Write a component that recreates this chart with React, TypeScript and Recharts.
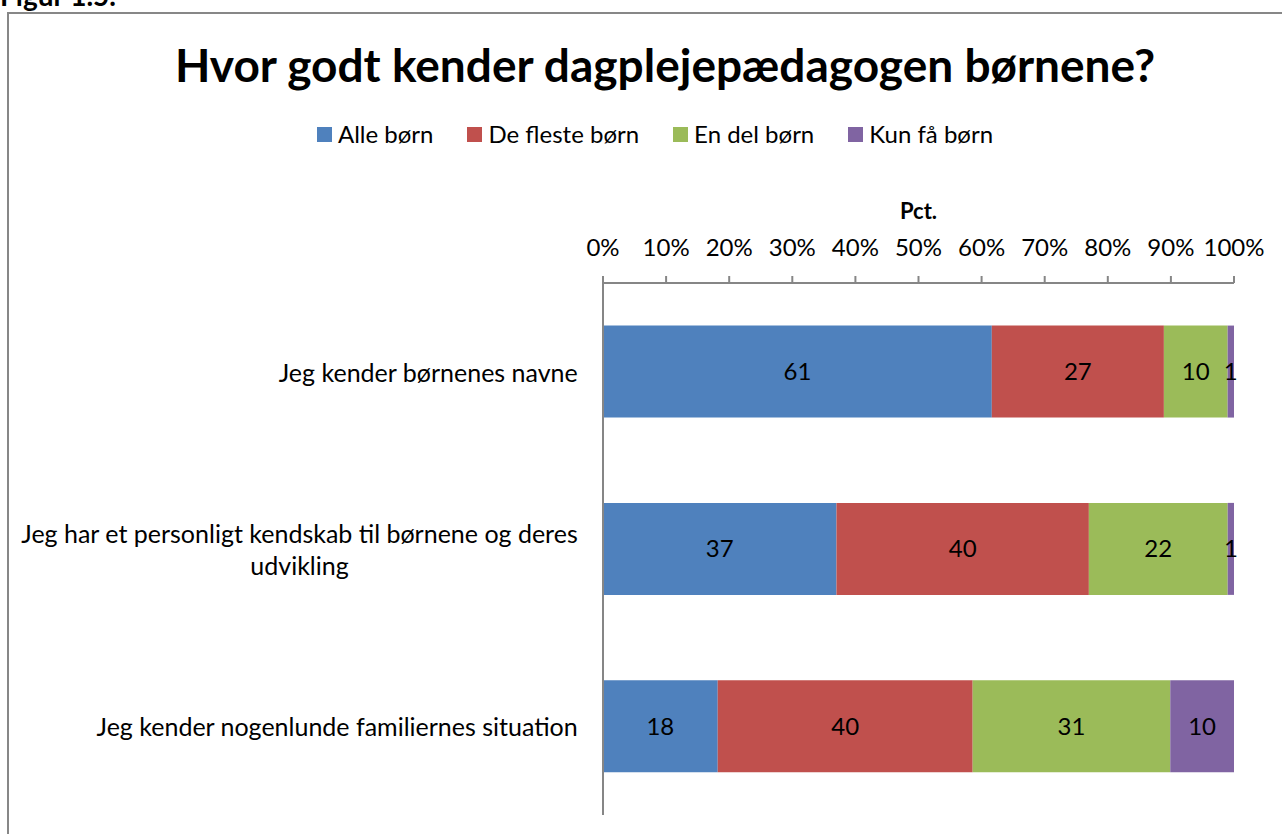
import { FC } from "react";
import { Bar, BarChart, LabelList, XAxis, YAxis } from "recharts";

const FONT = "Lato, 'Open Sans', sans-serif";

const categories = [
  "Jeg kender børnenes navne",
  "Jeg har et personligt kendskab til børnene og deres udvikling",
  "Jeg kender nogenlunde familiernes situation",
];
const alleBorn = [61, 37, 18];
const flesteBorn = [27, 40, 40];
const delBorn = [10, 22, 31];
const faaBorn = [1, 1, 10];

const seriesNames = ["Alle børn", "De fleste børn", "En del børn", "Kun få børn"];
const seriesColors = ["#4F81BD", "#C0504D", "#9BBB59", "#8064A2"];
const seriesKeys = ["alle", "fleste", "del", "faa"];

const xTicks = [0, 0.1, 0.2, 0.3, 0.4, 0.5, 0.6, 0.7, 0.8, 0.9, 1];

const data = categories.map((name, i) => ({
  name,
  alle: alleBorn[i],
  fleste: flesteBorn[i],
  del: delBorn[i],
  faa: faaBorn[i],
}));

let ctx: CanvasRenderingContext2D | null = null;
const measure = (text: string, size: number) => {
  if (!ctx) ctx = document.createElement("canvas").getContext("2d");
  if (!ctx) return text.length * size * 0.5;
  ctx.font = `${size}px Lato`;
  return ctx.measureText(text).width;
};

const wrap = (text: string, size: number, maxWidth: number) => {
  const words = text.split(" ");
  const lines: string[] = [];
  let cur = "";
  words.forEach((w) => {
    const next = cur ? cur + " " + w : w;
    if (measure(next, size) > maxWidth && cur) {
      lines.push(cur);
      cur = w;
    } else {
      cur = next;
    }
  });
  if (cur) lines.push(cur);
  return lines;
};

const CategoryTick: FC<any> = ({ x, y, payload }) => {
  const size = 25;
  const lineHeight = 32;
  const lines = wrap(payload.value, size, 575);
  const widest = Math.max(...lines.map((l) => measure(l, size)));
  const right = x - 17;
  const cx = right - widest / 2;
  const startY = y - ((lines.length - 1) * lineHeight) / 2;
  return (
    <text
      x={cx}
      y={startY}
      textAnchor="middle"
      dominantBaseline="central"
      fontSize={size}
      fill="#000"
      fontFamily={FONT}
    >
      {lines.map((l, i) => (
        <tspan key={i} x={cx} y={startY + i * lineHeight}>
          {l}
        </tspan>
      ))}
    </text>
  );
};

const App: FC = () => {
  return (
    <div
      style={{
        position: "fixed",
        left: 0,
        top: 0,
        width: 1282,
        height: 834,
        overflow: "hidden",
        background: "#fff",
        fontFamily: FONT,
      }}
    >
      <div
        style={{
          position: "absolute",
          left: 0,
          top: -22,
          fontSize: 28,
          fontWeight: 700,
          lineHeight: "34px",
        }}
      >
        Figur 1.5.
      </div>
      <div
        style={{
          position: "absolute",
          left: 7,
          top: 12,
          width: 1320,
          height: 900,
          borderTop: "2px solid #878787",
          borderLeft: "2px solid #878787",
        }}
      />
      <div
        style={{
          position: "absolute",
          left: 0,
          width: 1330,
          top: 35,
          textAlign: "center",
          fontSize: 46,
          fontWeight: 700,
          lineHeight: "60px",
          color: "#000",
        }}
      >
        Hvor godt kender dagplejepædagogen børnene?
      </div>
      <div
        style={{
          position: "absolute",
          left: 0,
          top: 119,
          width: 1310,
          display: "flex",
          justifyContent: "center",
          gap: 34,
          fontSize: 24,
          lineHeight: "30px",
          color: "#000",
        }}
      >
        {seriesNames.map((n, i) => (
          <div key={n} style={{ display: "flex", alignItems: "center" }}>
            <span
              style={{
                width: 15,
                height: 15,
                background: seriesColors[i],
                marginRight: 6,
                display: "inline-block",
              }}
            />
            {n}
          </div>
        ))}
      </div>
      <div
        style={{
          position: "absolute",
          left: 0,
          top: 197,
          width: 1837,
          textAlign: "center",
          fontSize: 22,
          lineHeight: "28px",
          fontWeight: 700,
        }}
      >
        Pct.
      </div>
      <div style={{ position: "absolute", left: 0, top: 0 }}>
        <BarChart
          width={1282}
          height={834}
          data={data}
          layout="vertical"
          stackOffset="expand"
          barCategoryGap="24%"
          margin={{ top: 0, right: 48, bottom: 19, left: 0 }}
          style={{ fontFamily: FONT }}
        >
          <XAxis
            type="number"
            orientation="top"
            domain={[0, 1]}
            ticks={xTicks}
            tickFormatter={(v: number) => `${Math.round(v * 100)}%`}
            height={283}
            tickSize={7}
            tickMargin={20}
            axisLine={{ stroke: "#868686", strokeWidth: 2 }}
            tickLine={{ stroke: "#868686", strokeWidth: 2 }}
            tick={{ fill: "#000", fontSize: 24, fontFamily: FONT }}
            interval={0}
          />
          <YAxis
            type="category"
            dataKey="name"
            width={603}
            axisLine={{ stroke: "#868686", strokeWidth: 2 }}
            tickLine={false}
            tick={<CategoryTick />}
            interval={0}
          />
          {seriesKeys.map((k, i) => (
            <Bar
              key={k}
              dataKey={k}
              name={seriesNames[i]}
              stackId="a"
              fill={seriesColors[i]}
              isAnimationActive={false}
            >
              <LabelList
                dataKey={k}
                position="center"
                fill="#000"
                fontSize={24}
                fontFamily={FONT}
              />
            </Bar>
          ))}
        </BarChart>
      </div>
    </div>
  );
};

export default App;
